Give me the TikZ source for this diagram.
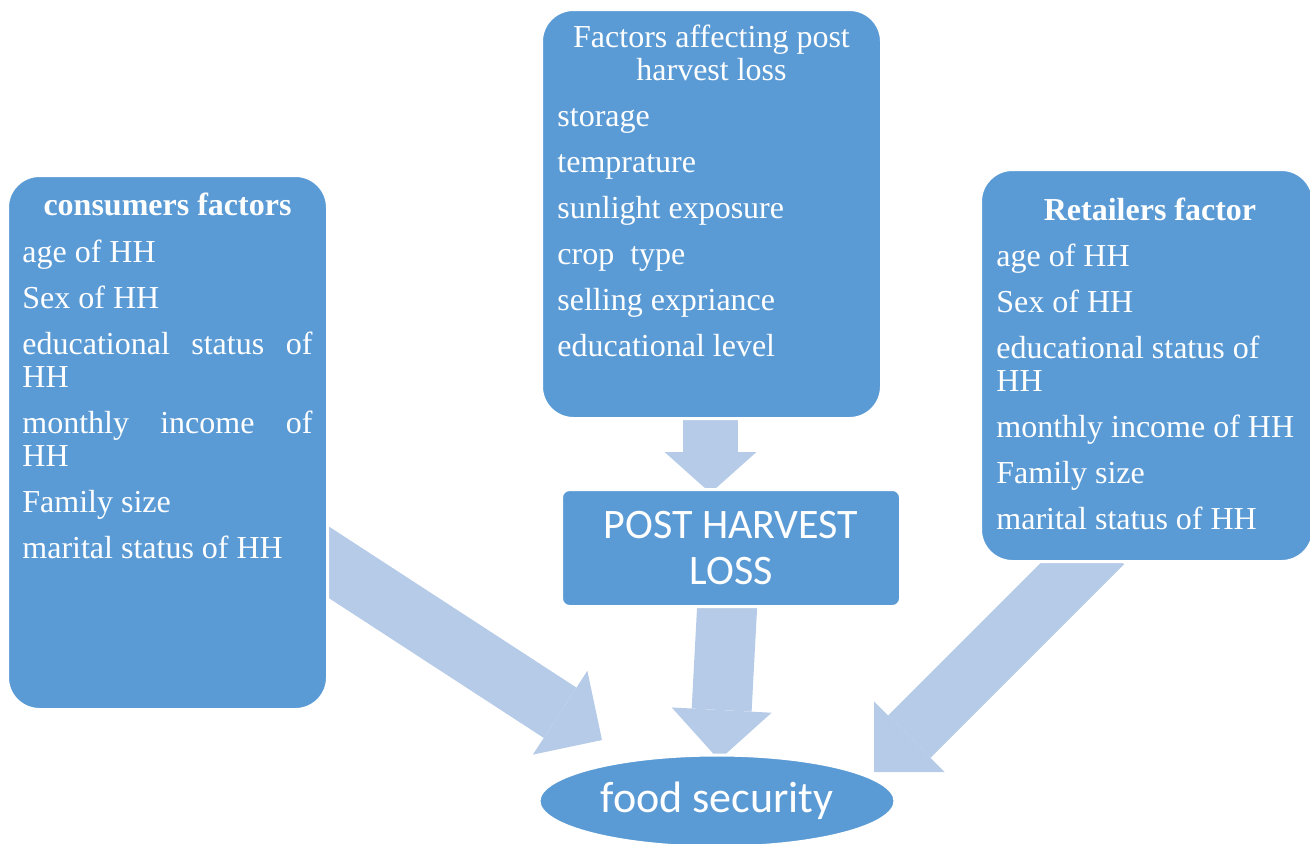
\documentclass[tikz,border=0pt]{standalone}
\usepackage{fontspec}
\setmainfont{Liberation Serif}
\newfontfamily\calibri{Carlito}
\usetikzlibrary{arrows.meta,shapes.geometric,backgrounds}
\definecolor{boxblue}{RGB}{91,155,213}
\definecolor{arrowblue}{RGB}{182,203,232}
\tikzset{
  factorbox/.style={draw=white, line width=1.5pt, fill=boxblue, rounded corners=16pt, inner sep=0pt},
  headtext/.style={text=white, inner sep=0pt, font=\bfseries\fontsize{16}{16.5}\selectfont},
  itemtext/.style={text=white, inner sep=0pt, font=\fontsize{16}{16.5}\selectfont,
    execute at begin node={\spaceskip=0pt\xspaceskip=0pt\relax}},
  bigarrow/.style={draw=arrowblue, line width=30pt, -{Triangle[length=25pt,width=50pt,line width=0pt]}}
}
\begin{document}
\begin{tikzpicture}[x=0.5pt,y=-0.5pt]
\useasboundingbox (0,0) rectangle (1310,843);
% boxes
\node[factorbox, minimum width=160pt, minimum height=267pt] (cons) at (167.5,442.5) {};
\node[factorbox, minimum width=170pt, minimum height=204.5pt] (factors) at (711.5,214) {};
\node[factorbox, minimum width=166.5pt, minimum height=196pt] (retail) at (1147,365.5) {};
\node[factorbox, rounded corners=4pt, minimum width=169.5pt, minimum height=58.5pt,
  text=white, align=center, font=\calibri\fontsize{21}{23}\selectfont] (loss) at (731,548) {POST HARVEST\\LOSS};
\node[ellipse, draw=white, line width=1.5pt, fill=boxblue, minimum width=178pt, minimum height=46pt,
  inner sep=0pt, text=white, font=\calibri\fontsize{22}{24}\selectfont] (food) at (717,801) {food security};
% texts
\node[headtext, anchor=base] (consHead) at (167.5,215) {consumers factors};
\node[itemtext, text width=145pt, anchor=base west] (consList) at (22,262) {age of HH\\[6.5pt]
  Sex of HH\\[6.5pt]
  \makebox[\linewidth][s]{educational status of}\\HH\\[6.5pt]
  \makebox[\linewidth][s]{monthly income of}\\HH\\[6.5pt]
  Family size\\[6.5pt]
  marital status of HH};
\node[itemtext, text width=170pt, anchor=base] (factHead) at (711.5,47) {\centering Factors affecting post\\harvest loss\par};
\node[itemtext, text width=150pt, anchor=base west] (factList) at (557,126) {storage\\[6.5pt]
  temprature\\[6.5pt]
  sunlight exposure\\[6.5pt]
  crop~ type\\[6.5pt]
  selling expriance\\[6.5pt]
  educational level};
\node[headtext, anchor=base] (retHead) at (1150,220) {Retailers factor};
\node[itemtext, text width=158pt, anchor=base west] (retList) at (996,266) {age of HH\\[6.5pt]
  Sex of HH\\[6.5pt]
  educational status of\\HH\\[6.5pt]
  monthly income of HH\\[6.5pt]
  Family size\\[6.5pt]
  marital status of HH};
% block arrows behind the boxes
\coordinate (factOut) at (710.5,400);
\coordinate (lossIn) at (710.5,493);
\coordinate (lossOut) at (728,590);
\coordinate (foodTop) at (719,760);
\coordinate (consOut) at (290,537);
\coordinate (foodLeft) at (602,740);
\coordinate (retOut) at (1103,543);
\coordinate (foodRight) at (874,772);
\begin{scope}[on background layer]
\draw[bigarrow, line width=27.5pt, -{Triangle[length=20.5pt,width=46pt,line width=0pt]}] (factOut) -- (lossIn);
\draw[bigarrow] (lossOut) -- (foodTop);
\draw[bigarrow] (consOut) -- (foodLeft);
\draw[bigarrow] (retOut) -- (foodRight);
\end{scope}
\end{tikzpicture}
\end{document}
